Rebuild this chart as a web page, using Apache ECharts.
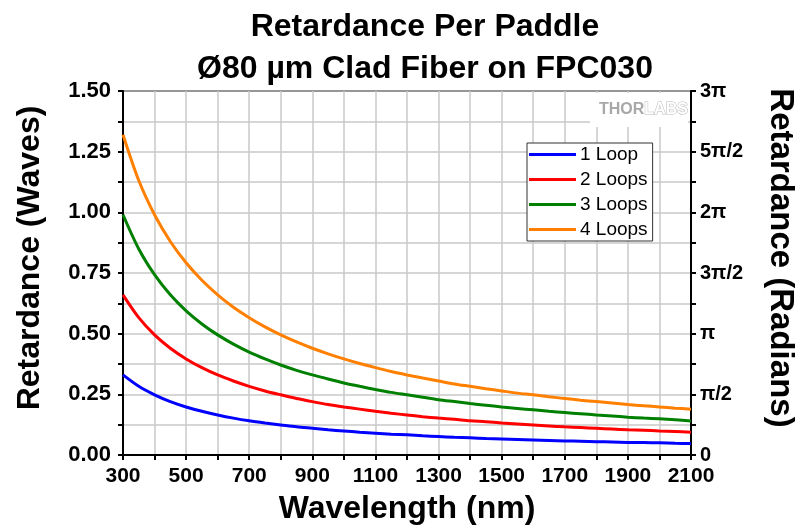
<!DOCTYPE html>
<html>
<head>
<meta charset="utf-8">
<script src="https://cdn.jsdelivr.net/npm/echarts@6/dist/echarts.min.js"></script>
<style>
  html, body { margin: 0; padding: 0; background: #fff; }
  #chart { width: 801px; height: 529px; }
</style>
</head>
<body>
<div id="chart"></div>
<script>
// Wavelength samples (nm), every 50 nm
const wavelengths = [300, 350, 400, 450, 500, 550, 600, 650, 700, 750, 800, 850, 900, 950, 1000, 1050, 1100, 1150, 1200,
  1250, 1300, 1350, 1400, 1450, 1500, 1550, 1600, 1650, 1700, 1750, 1800, 1850, 1900, 1950, 2000, 2050, 2100];

// Retardance per paddle (waves)
const loop1 = [0.330, 0.283, 0.248, 0.220, 0.198, 0.180, 0.165, 0.152, 0.141, 0.132, 0.124, 0.116, 0.110, 0.104, 0.099, 0.094, 0.090, 0.086, 0.083,
  0.079, 0.076, 0.073, 0.071, 0.068, 0.066, 0.064, 0.062, 0.060, 0.058, 0.057, 0.055, 0.054, 0.052, 0.051, 0.050, 0.048, 0.047];
const loop2 = [0.660, 0.566, 0.495, 0.440, 0.396, 0.360, 0.330, 0.305, 0.283, 0.264, 0.248, 0.233, 0.220, 0.208, 0.198, 0.189, 0.180, 0.172, 0.165,
  0.158, 0.152, 0.147, 0.141, 0.137, 0.132, 0.128, 0.124, 0.120, 0.116, 0.113, 0.110, 0.107, 0.104, 0.102, 0.099, 0.097, 0.094];
const loop3 = [0.990, 0.849, 0.743, 0.660, 0.594, 0.540, 0.495, 0.457, 0.424, 0.396, 0.371, 0.349, 0.330, 0.313, 0.297, 0.283, 0.270, 0.258, 0.248,
  0.238, 0.228, 0.220, 0.212, 0.205, 0.198, 0.192, 0.186, 0.180, 0.175, 0.170, 0.165, 0.161, 0.156, 0.152, 0.149, 0.145, 0.140];
const loop4 = [1.320, 1.131, 0.990, 0.880, 0.792, 0.720, 0.660, 0.609, 0.566, 0.528, 0.495, 0.466, 0.440, 0.417, 0.396, 0.377, 0.360, 0.344, 0.330,
  0.317, 0.305, 0.293, 0.283, 0.273, 0.264, 0.255, 0.248, 0.240, 0.233, 0.226, 0.220, 0.214, 0.208, 0.203, 0.198, 0.193, 0.189];

const seriesNames = ['1 Loop', '2 Loops', '3 Loops', '4 Loops'];
const seriesColors = ['#0000ff', '#ff0000', '#008000', '#ff8000'];
const seriesValues = [loop1, loop2, loop3, loop4];

// Right-axis labels: waves expressed in radians
const radianLabels = { '0': '0', '0.25': 'π/2', '0.5': 'π', '0.75': '3π/2', '1': '2π', '1.25': '5π/2', '1.5': '3π' };

const FONT = '"Liberation Sans", Arial, sans-serif';

const chart = echarts.init(document.getElementById('chart'), null, { renderer: 'canvas' });

const tickStyle = { show: true, inside: false, length: 5, lineStyle: { color: '#000', width: 2 } };
const gridLine = { show: true, lineStyle: { color: '#c8c8c8', width: 1.5 } };
const tickFont = { fontFamily: FONT, fontSize: 21, fontWeight: 'bold', color: '#000' };
const nameFont = { fontFamily: FONT, fontSize: 32, fontWeight: 'bold', color: '#000' };

chart.setOption({
  animation: false,
  backgroundColor: '#fff',
  title: {
    text: 'Retardance Per Paddle\nØ80 µm Clad Fiber on FPC030',
    left: 420, top: 1, textAlign: 'center',
    textStyle: { fontFamily: FONT, fontSize: 32, fontWeight: 'bold', color: '#000', lineHeight: 42 }
  },
  grid: {
    left: 123, right: 110, top: 91, bottom: 74,
    outerBoundsMode: 'none',
    containLabel: false,
    show: true, borderColor: '#000', borderWidth: 2, backgroundColor: 'transparent'
  },
  legend: {
    left: 527, top: 143,
    orient: 'vertical',
    icon: 'rect', itemWidth: 47, itemHeight: 3, itemGap: 6,
    padding: [2, 5, 2, 2],
    backgroundColor: '#fff', borderColor: '#333', borderWidth: 1, borderRadius: 0,
    textStyle: { fontFamily: FONT, fontSize: 19, color: '#000', padding: [0, 0, 0, -1], lineHeight: 19 },
    data: seriesNames
  },
  xAxis: {
    type: 'value', min: 300, max: 2100, interval: 100,
    name: 'Wavelength (nm)', nameLocation: 'middle', nameGap: 38,
    nameTextStyle: nameFont,
    axisLine: { show: true, lineStyle: { color: '#000', width: 2 } },
    axisTick: tickStyle,
    axisLabel: Object.assign({}, tickFont, {
      margin: 11,
      formatter: v => ((v - 300) % 200 === 0 ? String(v) : '')
    }),
    splitLine: gridLine
  },
  yAxis: [
    {
      type: 'value', min: 0, max: 1.5, interval: 0.125, position: 'left',
      name: 'Retardance (Waves)', nameLocation: 'middle', nameGap: 77,
      nameTextStyle: Object.assign({}, nameFont, { padding: [0, 0, 0, 30] }),
      axisLine: { show: true, lineStyle: { color: '#000', width: 2 } },
      axisTick: tickStyle,
      axisLabel: Object.assign({}, tickFont, {
        fontSize: 22, margin: 12,
        formatter: v => (Math.round(v * 1000) % 250 === 0 ? v.toFixed(2) : '')
      }),
      splitLine: gridLine
    },
    {
      type: 'value', min: 0, max: 1.5, interval: 0.125, position: 'right',
      name: 'Retardance (Radians)', nameLocation: 'middle', nameGap: 73, nameRotate: -90,
      nameTextStyle: Object.assign({}, nameFont, { fontSize: 33, padding: [0, 30, 0, 0] }),
      axisLine: { show: true, lineStyle: { color: '#000', width: 2 } },
      axisTick: tickStyle,
      axisLabel: Object.assign({}, tickFont, {
        fontSize: 20, margin: 9,
        formatter: v => {
          const key = String(Math.round(v * 1000) / 1000);
          return radianLabels[key] !== undefined ? radianLabels[key] : '';
        }
      }),
      splitLine: { show: false }
    }
  ],
  graphic: [
    {
      type: 'rect', left: 590, top: 93, z: 5,
      shape: { width: 98, height: 34 },
      style: { fill: '#fff' }
    },
    {
      type: 'text', left: 599, top: 101, z: 6,
      style: {
        text: '{a|THOR}{b|LABS}',
        rich: {
          a: { fontFamily: FONT, fontSize: 16, fontWeight: 'bold', fill: '#a8a8a8' },
          b: { fontFamily: FONT, fontSize: 16, fontWeight: 'bold', fill: '#fff', stroke: '#b8b8b8', lineWidth: 1 }
        }
      }
    }
  ],
  series: seriesNames.map((name, i) => ({
    name,
    type: 'line',
    yAxisIndex: 0,
    data: wavelengths.map((w, j) => [w, seriesValues[i][j]]),
    smooth: 0.3,
    showSymbol: false,
    lineStyle: { color: seriesColors[i], width: 3 },
    itemStyle: { color: seriesColors[i] },
    z: 3
  }))
});
</script>
</body>
</html>
